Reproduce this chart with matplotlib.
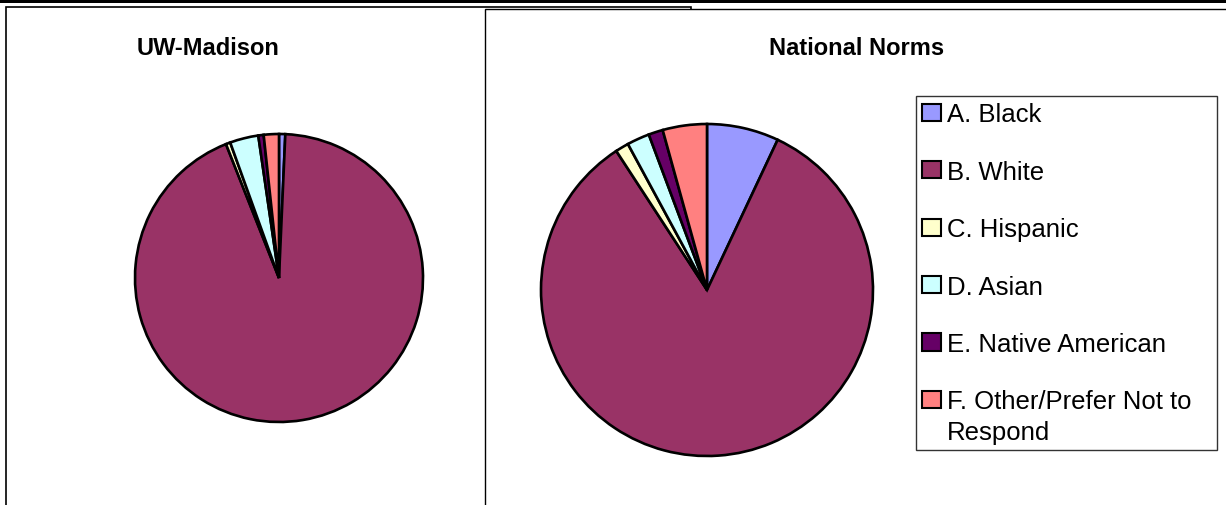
import matplotlib
matplotlib.use("Agg")
import matplotlib.pyplot as plt
from matplotlib.patches import Rectangle
from matplotlib.legend_handler import HandlerPatch

plt.rcParams['font.family'] = ['Liberation Sans', 'DejaVu Sans']

categories = ["A. Black", "B. White", "C. Hispanic", "D. Asian",
              "E. Native American", "F. Other/Prefer Not to\nRespond"]
uw_values = [0.7, 93.3, 0.5, 3.2, 0.6, 1.7]
national_values = [7.0, 83.8, 1.3, 2.2, 1.4, 4.3]
titles = ["UW-Madison", "National Norms"]
colors = ["#9999FF", "#993366", "#FFFFCC", "#CCFFFF", "#660066", "#FF8080"]

W, H = 1226, 506
fig = plt.figure(figsize=(W / 100, H / 100), dpi=100)

def fx(px):
    return px / W

def fy(py):
    return 1 - py / H

# top rule
fig.add_artist(Rectangle((0, fy(3.5)), 1, 3.5 / H, transform=fig.transFigure,
                         facecolor="black", edgecolor="none", zorder=-5))
# panels
fig.add_artist(Rectangle((fx(6), fy(520)), fx(691 - 6), (520 - 8) / H,
                         transform=fig.transFigure, facecolor="white",
                         edgecolor="black", linewidth=1.2, zorder=-4))
fig.add_artist(Rectangle((fx(484.5), fy(520)), fx(1240 - 484.5), (520 - 10) / H,
                         transform=fig.transFigure, facecolor="white",
                         edgecolor="black", linewidth=1.0, zorder=-3))

def pie_axes(cx, cy, r):
    return fig.add_axes([fx(cx - r), fy(cy + r), 2 * r / W, 2 * r / H])

ax1 = pie_axes(279, 279, 144)
ax2 = pie_axes(707, 291, 166)

wedges = None
for ax, vals in [(ax1, uw_values), (ax2, national_values)]:
    w, _ = ax.pie(vals, colors=colors, startangle=90, counterclock=False,
                  radius=1, wedgeprops=dict(edgecolor="black", linewidth=1.9))
    ax.set_xlim(-1.0, 1.0)
    ax.set_ylim(-1.0, 1.0)
    ax.set_aspect("equal")
    ax.axis("off")
    if wedges is None:
        wedges = w

fig.text(fx(208.5), fy(55), titles[0], ha="center", va="baseline",
         fontsize=17, fontweight="bold")
fig.text(fx(857), fy(55), titles[1], ha="center", va="baseline",
         fontsize=17, fontweight="bold")

LEG_FS = 18.5
LINE_SP = 1.33

def shifted_square(legend, orig_handle, xdescent, ydescent, width, height, fontsize):
    shift = 0.5 * (0.85 * fontsize * LINE_SP + 0.21 * fontsize)
    return Rectangle((-xdescent, -ydescent + shift), width, height)

leg = fig.legend(wedges, categories, loc="upper left",
                 bbox_to_anchor=(fx(916), fy(97), fx(1217 - 916), 0.0),
                 bbox_transform=fig.transFigure, mode="expand",
                 borderaxespad=0, fontsize=LEG_FS, frameon=True, fancybox=False,
                 handlelength=0.72, handleheight=0.66, handletextpad=0.25,
                 labelspacing=1.3, borderpad=0.25,
                 handler_map={wedges[5]: HandlerPatch(patch_func=shifted_square)})
leg.get_frame().set_edgecolor("black")
leg.get_frame().set_linewidth(1.0)
for h in leg.legend_handles:
    h.set_linewidth(1.5)
for t in leg.get_texts():
    t.set_linespacing(LINE_SP)

fig.savefig("out.png", dpi=100)
